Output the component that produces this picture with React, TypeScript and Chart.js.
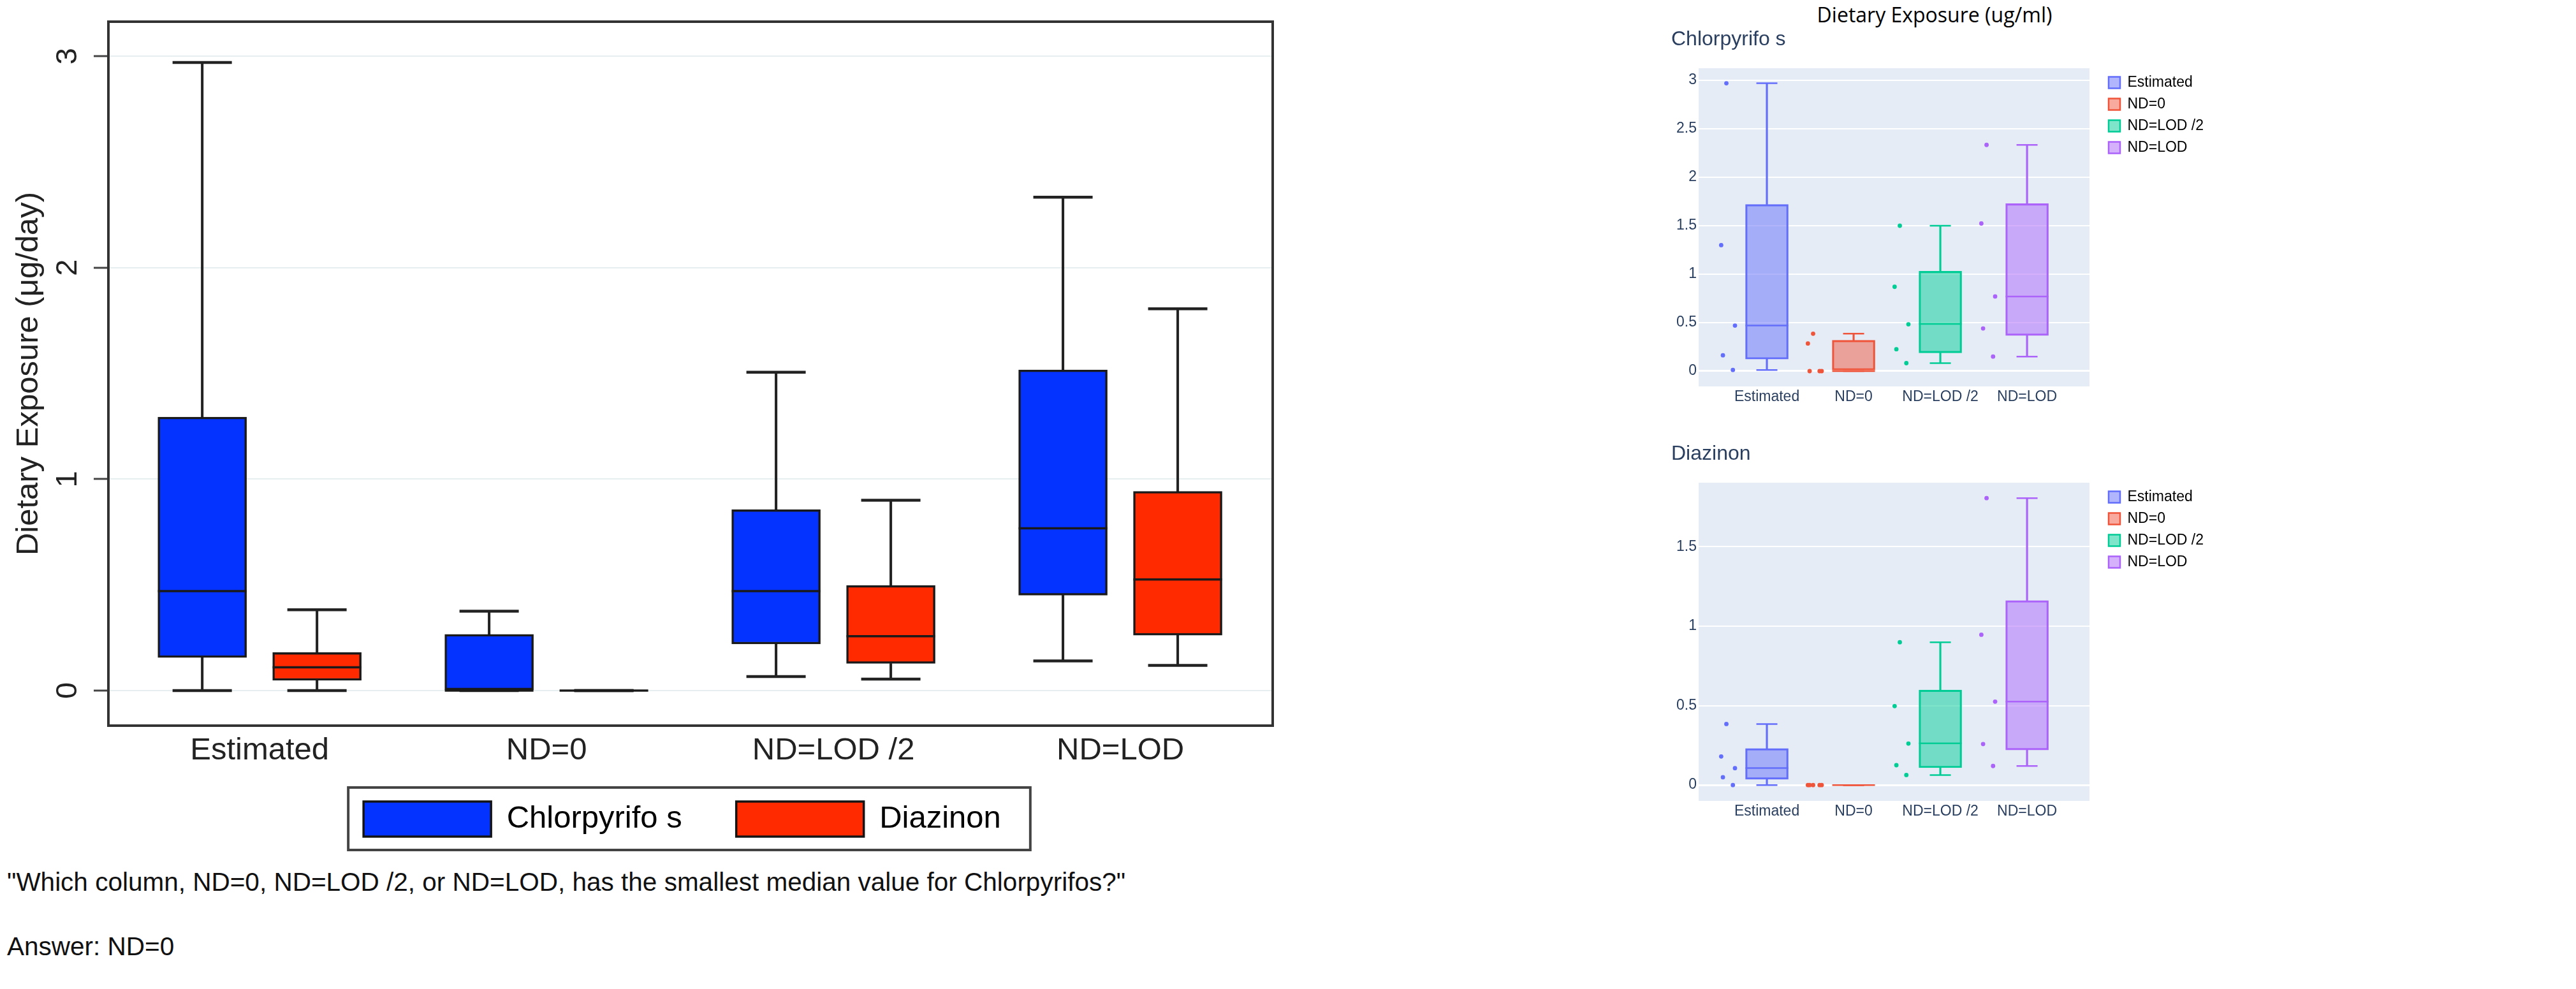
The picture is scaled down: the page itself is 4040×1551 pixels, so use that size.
import React, { useEffect, useRef } from "react";
import { Chart, registerables } from "chart.js";

Chart.register(...registerables);

// ---------------- data ----------------
const CATEGORIES = ["Estimated", "ND=0", "ND=LOD /2", "ND=LOD"];
const SERIES = ["Chlorpyrifo s", "Diazinon"];

// left panel (Stata-style box plot), five-number summaries
const STATA_Y_TICKS = [0, 1, 2, 3];
const STATA_Y_TITLE = "Dietary Exposure (μg/day)";
const STATA_CHL_MIN = [0.0, 0.0, 0.066, 0.14];
const STATA_CHL_Q1 = [0.156, 0.0, 0.22, 0.451];
const STATA_CHL_MED = [0.47, 0.0, 0.47, 0.767];
const STATA_CHL_Q3 = [1.293, 0.266, 0.855, 1.516];
const STATA_CHL_MAX = [2.97, 0.375, 1.505, 2.333];
const STATA_DIA_MIN = [0.0, 0.0, 0.054, 0.119];
const STATA_DIA_Q1 = [0.048, 0.0, 0.128, 0.262];
const STATA_DIA_MED = [0.11, 0.0, 0.257, 0.525];
const STATA_DIA_Q3 = [0.18, 0.0, 0.497, 0.942];
const STATA_DIA_MAX = [0.382, 0.0, 0.9, 1.805];

// right panel (plotly-style box plots with all points)
const PLOT_TITLE = "Dietary Exposure (ug/ml)";
const CHL_TITLE = "Chlorpyrifo s";
const DIA_TITLE = "Diazinon";
const CHL_Y_TICKS = [0, 0.5, 1, 1.5, 2, 2.5, 3];
const DIA_Y_TICKS = [0, 0.5, 1, 1.5];

const CHL_POINTS = [
  [2.97, 1.3, 0.47, 0.163, 0.012],
  [0.386, 0.285, 0, 0, 0],
  [1.5, 0.87, 0.483, 0.226, 0.082],
  [2.334, 1.523, 0.77, 0.44, 0.15],
];
const CHL_MIN = [0.012, 0, 0.082, 0.15];
const CHL_Q1 = [0.123, 0, 0.188, 0.368];
const CHL_MED = [0.47, 0, 0.486, 0.77];
const CHL_Q3 = [1.72, 0.318, 1.03, 1.728];
const CHL_MAX = [2.97, 0.386, 1.5, 2.334];

const DIA_POINTS = [
  [0.384, 0.18, 0.106, 0.049, 0],
  [0, 0, 0, 0, 0],
  [0.899, 0.497, 0.261, 0.125, 0.063],
  [1.806, 0.946, 0.525, 0.258, 0.12],
];
const DIA_MIN = [0, 0, 0.063, 0.12];
const DIA_Q1 = [0.036, 0, 0.109, 0.221];
const DIA_MED = [0.107, 0, 0.262, 0.525];
const DIA_Q3 = [0.23, 0, 0.598, 1.161];
const DIA_MAX = [0.384, 0, 0.899, 1.806];

const QUESTION =
  "\"Which column, ND=0, ND=LOD /2, or ND=LOD, has the smallest median value for Chlorpyrifos?\"";
const ANSWER = "Answer: ND=0";

// ---------------- styles ----------------
const SANS = "'Liberation Sans', Arial, Helvetica, sans-serif";
const OPEN = "'Open Sans', 'Liberation Sans', sans-serif";
const STATA_FILL = ["#0433FF", "#FF2A00"];
const STATA_EDGE = "#1a1a1a";
const STATA_OFFSET = 0.2; // half of the distance between the paired boxes (category units)
const PLOTLY_LINE = ["#636EFA", "#EF553B", "#00CC96", "#AB63FA"];
const PLOTLY_FILL = [
  "rgba(99,110,250,0.5)",
  "rgba(239,85,59,0.5)",
  "rgba(0,204,150,0.5)",
  "rgba(171,99,250,0.5)",
];
const PLOTLY_TEXT = "#2a3f5f";
const JITTER = [-0.467, -0.527, -0.368, -0.507, -0.392]; // point offsets left of each box

Chart.defaults.font.family = SANS;

type BoxStyle = {
  fill: string[];
  edge: string[];
  whisker: string[];
  median: string[];
  boxPx: number;
  edgePx: number;
  whiskerPx: number;
  capPx: number;
  capLine: number;
  medLine: number;
};

function boxDatasets(
  xs: number[],
  mn: number[],
  q1: number[],
  med: number[],
  q3: number[],
  mx: number[],
  st: BoxStyle,
  label: string
): any[] {
  const whisker = {
    type: "bar",
    xAxisID: "x",
    yAxisID: "y",
    grouped: false,
    barThickness: st.whiskerPx,
    backgroundColor: st.whisker,
    borderWidth: 0,
    order: 5,
  };
  return [
    { ...whisker, label: label + " lower", data: xs.map((x, i) => ({ x, y: [mn[i], q1[i]] })) },
    { ...whisker, label: label + " upper", data: xs.map((x, i) => ({ x, y: [q3[i], mx[i]] })) },
    {
      type: "bar",
      label,
      xAxisID: "x",
      yAxisID: "y",
      data: xs.map((x, i) => ({ x, y: [q1[i], q3[i]] })),
      backgroundColor: st.fill,
      borderColor: st.edge,
      borderWidth: st.edgePx,
      borderSkipped: false,
      barThickness: st.boxPx,
      grouped: false,
      order: 4,
    },
    {
      type: "scatter",
      label: label + " caps",
      xAxisID: "x",
      yAxisID: "y",
      data: [
        ...xs.map((x, i) => ({ x, y: mx[i] })),
        ...xs.map((x, i) => ({ x, y: mn[i] })),
      ],
      pointStyle: "line",
      pointRadius: st.capPx / 2,
      pointBorderWidth: st.capLine,
      pointBorderColor: [...st.whisker, ...st.whisker],
      order: 3,
    },
    {
      type: "scatter",
      label: label + " median",
      xAxisID: "x",
      yAxisID: "y",
      data: xs.map((x, i) => ({ x, y: med[i] })),
      pointStyle: "line",
      pointRadius: st.boxPx / 2,
      pointBorderWidth: st.medLine,
      pointBorderColor: st.median,
      order: 2,
    },
  ];
}

// fixes an axis' thickness and removes the label overflow padding
function fixSize(kind: "width" | "height", px: number) {
  return (s: any) => {
    s[kind] = px;
    s.paddingTop = 0;
    s.paddingBottom = 0;
    s.paddingLeft = 0;
    s.paddingRight = 0;
  };
}

// ---------------- plugins ----------------
const stataFrame = {
  id: "stataFrame",
  afterDraw(chart: any) {
    const { ctx, chartArea: a } = chart;
    ctx.save();
    ctx.strokeStyle = "#333";
    ctx.lineWidth = 4;
    ctx.strokeRect(a.left, a.top, a.right - a.left, a.bottom - a.top);
    const hb = chart.legend && chart.legend.legendHitBoxes;
    if (hb && hb.length) {
      const l = Math.min(...hb.map((h: any) => h.left)) - 24;
      const r = Math.max(...hb.map((h: any) => h.left + h.width)) + 46;
      const t = hb[0].top - 22;
      const b = hb[0].top + hb[0].height + 21;
      ctx.strokeStyle = "#444";
      ctx.lineWidth = 4;
      ctx.strokeRect(l, t, r - l, b - t);
    }
    ctx.restore();
  },
};

const plotBg = {
  id: "plotBg",
  beforeDraw(chart: any) {
    const { ctx, chartArea: a } = chart;
    ctx.save();
    ctx.fillStyle = "#E5ECF6";
    ctx.fillRect(a.left, a.top, a.right - a.left, a.bottom - a.top);
    ctx.restore();
  },
};

// ---------------- configs ----------------
function stataStyle(k: number): BoxStyle {
  return {
    fill: CATEGORIES.map(() => STATA_FILL[k]),
    edge: CATEGORIES.map(() => STATA_EDGE),
    whisker: CATEGORIES.map(() => "#222"),
    median: CATEGORIES.map(() => STATA_EDGE),
    boxPx: 139,
    edgePx: 3.5,
    whiskerPx: 3.4,
    capPx: 93,
    capLine: 4.5,
    medLine: 3.5,
  };
}

function stataConfig(): any {
  return {
    type: "bar",
    data: {
      datasets: [
        ...boxDatasets(
          CATEGORIES.map((_, i) => i - STATA_OFFSET),
          STATA_CHL_MIN,
          STATA_CHL_Q1,
          STATA_CHL_MED,
          STATA_CHL_Q3,
          STATA_CHL_MAX,
          stataStyle(0),
          SERIES[0]
        ),
        ...boxDatasets(
          CATEGORIES.map((_, i) => i + STATA_OFFSET),
          STATA_DIA_MIN,
          STATA_DIA_Q1,
          STATA_DIA_MED,
          STATA_DIA_Q3,
          STATA_DIA_MAX,
          stataStyle(1),
          SERIES[1]
        ),
      ],
    },
    options: {
      responsive: false,
      animation: false,
      devicePixelRatio: 1,
      events: [],
      layout: { autoPadding: false, padding: { left: 0, right: 0, top: 34, bottom: 18 } },
      plugins: {
        tooltip: { enabled: false },
        title: { display: false },
        legend: {
          display: true,
          position: "bottom",
          labels: {
            boxWidth: 200,
            boxHeight: 55,
            padding: 85,
            color: "#222",
            font: { family: SANS, size: 49 },
            generateLabels: () =>
              SERIES.map((s, k) => ({
                text: s,
                fillStyle: STATA_FILL[k],
                strokeStyle: "#141414",
                lineWidth: 3.5,
                hidden: false,
                datasetIndex: k,
              })),
          },
        },
      },
      scales: {
        x: {
          type: "linear",
          min: -0.527,
          max: 3.531,
          offset: false,
          afterBuildTicks: (s: any) => {
            s.ticks = CATEGORIES.map((_, i) => ({ value: i }));
          },
          afterFit: fixSize("height", 34),
          ticks: {
            autoSkip: false,
            maxRotation: 0,
            mirror: true,
            padding: -68.4,
            color: "#222",
            font: { family: SANS, size: 49 },
            callback: (v: any) => CATEGORIES[Math.round(Number(v))],
          },
          grid: { display: false, drawTicks: false, offset: false },
          border: { display: false },
        },
        y: {
          type: "linear",
          position: "left",
          min: -0.166,
          max: 3.163,
          afterBuildTicks: (s: any) => {
            s.ticks = STATA_Y_TICKS.map((v) => ({ value: v }));
          },
          afterFit: fixSize("width", 170),
          ticks: {
            minRotation: 90,
            maxRotation: 90,
            crossAlign: "center",
            padding: 27,
            color: "#222",
            font: { family: SANS, size: 47 },
            callback: (v: any) => String(v),
          },
          grid: {
            color: "#E6EEF0",
            lineWidth: 2,
            drawTicks: true,
            tickLength: 23,
            tickColor: "#444",
            tickWidth: 3,
          },
          border: { display: false },
          title: {
            display: true,
            text: STATA_Y_TITLE,
            color: "#222",
            font: { family: SANS, size: 49 },
            padding: { top: 16, bottom: 0 },
          },
        },
        yR: {
          type: "linear",
          position: "right",
          display: true,
          afterFit: fixSize("width", 144),
          ticks: { display: false },
          grid: { display: false, drawTicks: false },
          border: { display: false },
        },
      },
    },
    plugins: [stataFrame],
  };
}

function plotlyConfig(p: {
  sub: string;
  pts: number[][];
  mn: number[];
  q1: number[];
  med: number[];
  q3: number[];
  mx: number[];
  yMin: number;
  yMax: number;
  yTicks: number[];
}): any {
  const st: BoxStyle = {
    fill: PLOTLY_FILL,
    edge: PLOTLY_LINE,
    whisker: PLOTLY_LINE,
    median: PLOTLY_LINE,
    boxPx: 67,
    edgePx: 2.5,
    whiskerPx: 2.5,
    capPx: 33,
    capLine: 2.5,
    medLine: 2.5,
  };
  const xs = CATEGORIES.map((_, i) => i);
  const pointData = p.pts.flatMap((arr, i) => arr.map((v, j) => ({ x: i + JITTER[j], y: v })));
  const pointColors = p.pts.flatMap((arr, i) => arr.map(() => PLOTLY_LINE[i]));
  return {
    type: "bar",
    data: {
      datasets: [
        ...boxDatasets(xs, p.mn, p.q1, p.med, p.q3, p.mx, st, "box"),
        {
          type: "scatter",
          label: "points",
          xAxisID: "x",
          yAxisID: "y",
          data: pointData,
          pointRadius: 3.4,
          pointBackgroundColor: pointColors,
          pointBorderWidth: 0,
          order: 1,
        },
      ],
    },
    options: {
      responsive: false,
      animation: false,
      devicePixelRatio: 1,
      events: [],
      layout: { autoPadding: false, padding: { left: 21, right: 0, top: 0, bottom: 13 } },
      plugins: {
        tooltip: { enabled: false },
        title: {
          display: true,
          text: p.sub,
          align: "start",
          color: PLOTLY_TEXT,
          font: { family: SANS, size: 32, weight: "normal" },
          padding: { top: 42.8, bottom: 25.8 },
        },
        legend: {
          display: true,
          position: "right",
          align: "start",
          fullSize: false,
          maxWidth: 168,
          labels: {
            boxWidth: 18,
            boxHeight: 18,
            padding: 11,
            color: PLOTLY_TEXT,
            font: { family: SANS, size: 23 },
            generateLabels: () =>
              CATEGORIES.map((c, i) => ({
                text: c,
                fillStyle: PLOTLY_FILL[i],
                strokeStyle: PLOTLY_LINE[i],
                lineWidth: 2.5,
                hidden: false,
                datasetIndex: 0,
              })),
          },
        },
      },
      scales: {
        x: {
          type: "linear",
          min: -0.787,
          max: 3.72,
          offset: false,
          afterBuildTicks: (s: any) => {
            s.ticks = CATEGORIES.map((_, i) => ({ value: i }));
          },
          afterFit: fixSize("height", 31),
          ticks: {
            autoSkip: false,
            maxRotation: 0,
            padding: 3.2,
            color: PLOTLY_TEXT,
            font: { family: SANS, size: 23 },
            callback: (v: any) => CATEGORIES[Math.round(Number(v))],
          },
          grid: { display: false, drawTicks: false, offset: false },
          border: { display: false },
        },
        y: {
          type: "linear",
          position: "left",
          min: p.yMin,
          max: p.yMax,
          afterBuildTicks: (s: any) => {
            s.ticks = p.yTicks.map((v) => ({ value: v }));
          },
          afterFit: fixSize("width", 43),
          ticks: {
            padding: 3,
            color: PLOTLY_TEXT,
            font: { family: SANS, size: 23 },
            callback: (v: any) => String(v),
          },
          grid: {
            color: "#ffffff",
            lineWidth: (c: any) => (c.tick && c.tick.value === 0 ? 3 : 2),
            drawTicks: false,
          },
          border: { display: false },
        },
        yR: {
          type: "linear",
          position: "right",
          display: true,
          afterFit: fixSize("width", 19),
          ticks: { display: false },
          grid: { display: false, drawTicks: false },
          border: { display: false },
        },
      },
    },
    plugins: [plotBg],
  };
}

// ---------------- components ----------------
function ChartCanvas(props: { make: () => any; left: number; top: number; width: number; height: number }) {
  const ref = useRef<HTMLCanvasElement | null>(null);
  useEffect(() => {
    if (!ref.current) return;
    const chart = new Chart(ref.current, props.make());
    return () => chart.destroy();
  }, []);
  return (
    <canvas
      ref={ref}
      width={props.width}
      height={props.height}
      style={{
        position: "absolute",
        left: props.left,
        top: props.top,
        width: props.width,
        height: props.height,
      }}
    />
  );
}

export default function App() {
  const textStyle: React.CSSProperties = {
    position: "absolute",
    fontFamily: SANS,
    fontSize: 40.5,
    lineHeight: "40px",
    color: "#111",
    whiteSpace: "nowrap",
  };
  return (
    <div
      style={{
        position: "fixed",
        left: 0,
        top: 0,
        width: 4040,
        height: 1551,
        background: "#ffffff",
        overflow: "hidden",
      }}
    >
      <ChartCanvas make={stataConfig} left={0} top={0} width={2140} height={1340} />
      <div
        style={{
          position: "absolute",
          left: 2634,
          top: 4,
          width: 800,
          textAlign: "center",
          fontFamily: OPEN,
          fontSize: 32,
          lineHeight: "38px",
          color: "#000",
          whiteSpace: "nowrap",
        }}
      >
        {PLOT_TITLE}
      </div>
      <ChartCanvas
        make={() =>
          plotlyConfig({
            sub: CHL_TITLE,
            pts: CHL_POINTS,
            mn: CHL_MIN,
            q1: CHL_Q1,
            med: CHL_MED,
            q3: CHL_Q3,
            mx: CHL_MAX,
            yMin: -0.158,
            yMax: 3.125,
            yTicks: CHL_Y_TICKS,
          })
        }
        left={2600}
        top={0}
        width={864}
        height={650}
      />
      <ChartCanvas
        make={() =>
          plotlyConfig({
            sub: DIA_TITLE,
            pts: DIA_POINTS,
            mn: DIA_MIN,
            q1: DIA_Q1,
            med: DIA_MED,
            q3: DIA_Q3,
            mx: DIA_MAX,
            yMin: -0.0998,
            yMax: 1.903,
            yTicks: DIA_Y_TICKS,
          })
        }
        left={2600}
        top={650}
        width={864}
        height={650}
      />
      <div style={{ ...textStyle, left: 11, top: 1363 }}>{QUESTION}</div>
      <div style={{ ...textStyle, left: 11, top: 1464 }}>{ANSWER}</div>
    </div>
  );
}
